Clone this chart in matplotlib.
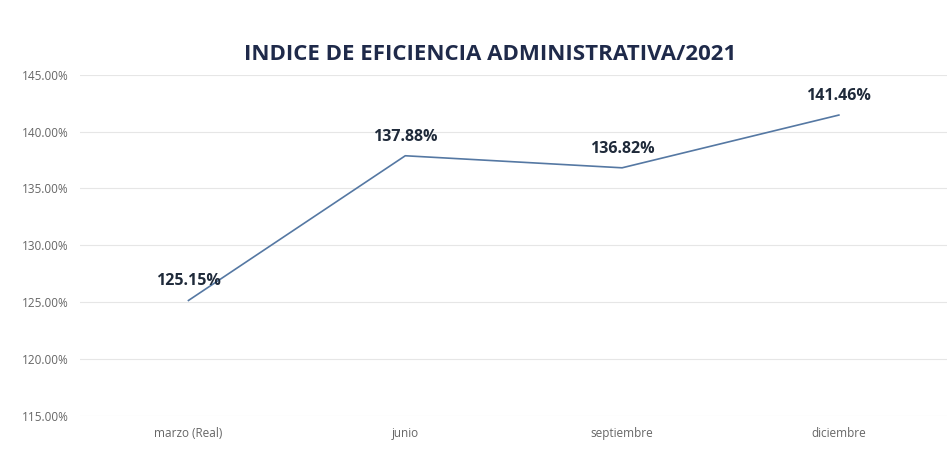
import matplotlib.pyplot as plt

meses = ['marzo (Real)', 'junio', 'septiembre', 'diciembre']
indice = [125.15, 137.88, 136.82, 141.46]
y_ticks = [115, 120, 125, 130, 135, 140, 145]

plt.rcParams['font.family'] = ['Open Sans', 'DejaVu Sans']

fig = plt.figure(figsize=(9.53, 4.59), dpi=100)
ax = fig.add_axes([0.084, 0.094, 0.91, 0.743])

x = range(len(meses))
ax.plot(x, indice, color='#5578a3', linewidth=1.2)

for i, v in zip(x, indice):
    ax.annotate('%.2f%%' % v, (i, v), xytext=(0, 8), textcoords='offset points',
                ha='center', va='bottom', fontsize=11.5, fontweight='bold', color='#1f2a3a')

ax.set_xlim(-0.5, len(meses) - 0.5)
ax.set_ylim(115, 145)
ax.set_yticks(y_ticks)
ax.set_yticklabels(['%.2f%%' % t for t in y_ticks], fontsize=8.5, color='#666666')
ax.set_xticks(list(x))
ax.set_xticklabels(meses, fontsize=8.5, color='#666666')
ax.tick_params(length=0, pad=8)
ax.grid(axis='y', color='#e6e6e6', linewidth=0.8)
for s in ax.spines.values():
    s.set_visible(False)

fig.text(0.514, 0.882, 'INDICE DE EFICIENCIA ADMINISTRATIVA/2021', ha='center', va='center',
         fontsize=16, fontweight='bold', color='#1f2a4a')

fig.savefig('out.png', dpi=100)
